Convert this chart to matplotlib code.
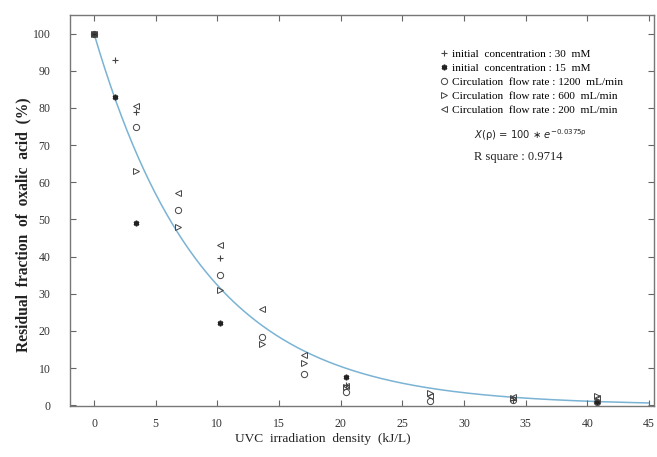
import numpy as np
import matplotlib
matplotlib.use('Agg')
import matplotlib.pyplot as plt

x_conc = [0, 1.7, 3.4, 10.2, 20.4, 34.0, 40.8]
y_30mM = [100, 93, 79, 39.5, 5.5, 1.5, 1.0]

x_15mM = [0, 1.7, 3.4, 10.2, 20.4, 40.8]
y_15mM = [100, 83, 49, 22, 7.5, 1.0]

x_flow = [0, 3.4, 6.8, 10.2, 13.6, 17.0, 20.4, 27.2, 34.0, 40.8]
y_1200 = [100, 75, 52.5, 35, 18.5, 8.5, 3.5, 1.2, 1.5, 1.0]
y_600 = [100, 63, 48, 31, 16.5, 11.5, 4.8, 3.2, 2.0, 2.6]
y_200 = [100, 80.5, 57, 43, 26, 13.5, 5.3, 2.4, 2.2, 2.0]

# exponential fit drawn through the points
fit_a = 100
fit_k = 0.113

xticks = list(range(0, 50, 5))
yticks = list(range(0, 110, 10))

serif = 'Liberation Serif'
grey = '#444444'

fig = plt.figure(figsize=(6.57, 4.57), dpi=100)
ax = fig.add_axes([0.1065, 0.1116, 0.889, 0.8555])

xs = np.linspace(0, 45, 300)
ax.plot(xs, fit_a * np.exp(-fit_k * xs), color='#7ab3d4', lw=1.1, zorder=1)

ms = 4.5
ax.plot(x_conc, y_30mM, ls='none', marker='+', ms=5, mew=0.8, color=grey,
        label='initial  concentration : 30  mM')
ax.plot(x_15mM, y_15mM, ls='none', marker=(6, 2, 0), ms=4, mew=1.2, color='#222222',
        label='initial  concentration : 15  mM')
ax.plot(x_flow, y_1200, ls='none', marker='o', ms=ms, mfc='none', mew=0.7, color=grey,
        label='Circulation  flow rate : 1200  mL/min')
ax.plot(x_flow, y_600, ls='none', marker='>', ms=ms, mfc='none', mew=0.7, color=grey,
        label='Circulation  flow rate : 600  mL/min')
ax.plot(x_flow, y_200, ls='none', marker='<', ms=ms, mfc='none', mew=0.7, color=grey,
        label='Circulation  flow rate : 200  mL/min')

ax.set_xlim(-1.95, 45.4)
ax.set_ylim(-0.2, 105)
ax.set_xticks(xticks)
ax.set_yticks(yticks)
ax.tick_params(direction='in', length=4, width=0.8, color='#666666',
               top=True, right=True, labelsize=8.5, labelcolor='#333333')
ax.tick_params(axis='x', pad=9)
ax.tick_params(axis='y', pad=14)
for lab in ax.get_xticklabels() + ax.get_yticklabels():
    lab.set_fontfamily(serif)
for sp in ax.spines.values():
    sp.set_color('#777777')
    sp.set_linewidth(1.0)

ax.set_xlabel('UVC  irradiation  density  (kJ/L)', fontfamily=serif, fontsize=9.6,
              color='#222222')
ax.xaxis.set_label_coords(0.433, -0.07)
ax.set_ylabel('Residual  fraction  of  oxalic  acid  (%)', fontfamily=serif, fontsize=11.2,
              fontweight='bold', color='#222222')
ax.yaxis.set_label_coords(-0.066, 0.463)

leg = ax.legend(loc='upper left', bbox_to_anchor=(0.625, 0.928), frameon=False,
                handlelength=0.6, handletextpad=0.4, labelspacing=0.38,
                prop={'family': serif, 'size': 8.1}, borderpad=0)

ax.text(0.692, 0.693, r'$X$(ρ) = 100 $\ast$ $e^{-0.0375\mathrm{ρ}}$', transform=ax.transAxes,
        fontsize=7.2, fontfamily='DejaVu Sans', color='#222222', va='center')
ax.text(0.692, 0.637, 'R square : 0.9714', transform=ax.transAxes,
        fontsize=9, fontfamily=serif, color='#222222', va='center')

fig.savefig('out.png', dpi=100)
